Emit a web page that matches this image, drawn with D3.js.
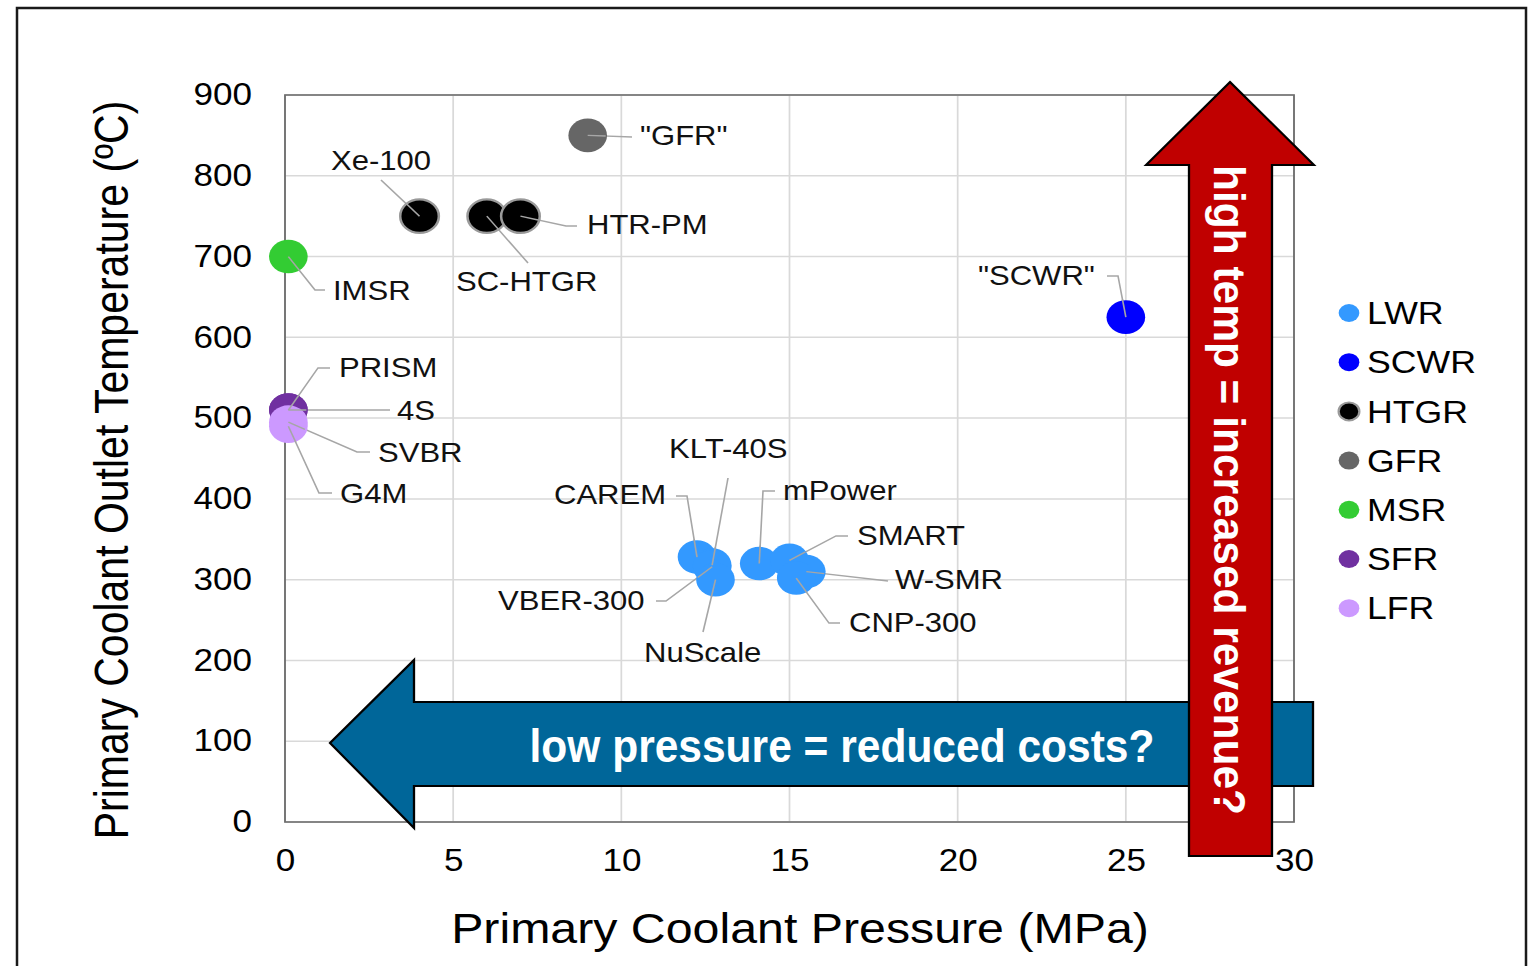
<!DOCTYPE html>
<html>
<head>
<meta charset="utf-8">
<script src="https://d3js.org/d3.v7.min.js"></script>
<style>
  body { margin: 0; background: #fff; }
  svg { display: block; font-family: "Liberation Sans", Arial, sans-serif; }
</style>
</head>
<body>
<div id="chart"></div>
<script>
// ---- data ----
const reactorNames = ['"GFR"', 'Xe-100', 'SC-HTGR', 'HTR-PM', 'IMSR', '"SCWR"', 'PRISM', '4S', 'SVBR', 'G4M',
  'CAREM', 'KLT-40S', 'VBER-300', 'NuScale', 'mPower', 'SMART', 'W-SMR', 'CNP-300'];
const pressures = [9, 4, 6, 7, 0.1, 25, 0.1, 0.1, 0.1, 0.1,
  12.25, 12.7, 12.7, 12.8, 14.1, 15, 15.5, 15.2];
const temperatures = [850, 750, 750, 750, 700, 625, 510, 510, 495, 490,
  328, 318, 316, 300, 320, 324, 310, 302];
const reactorTypes = ['GFR', 'HTGR', 'HTGR', 'HTGR', 'MSR', 'SCWR', 'SFR', 'SFR', 'LFR', 'LFR',
  'LWR', 'LWR', 'LWR', 'LWR', 'LWR', 'LWR', 'LWR', 'LWR'];

const legendTypes = ['LWR', 'SCWR', 'HTGR', 'GFR', 'MSR', 'SFR', 'LFR'];
const typeColors = ['#3399ff', '#0000ff', '#000000', '#666666', '#33cc33', '#7030a0', '#cc99ff'];

const xTicks = [0, 5, 10, 15, 20, 25, 30];
const yTicks = [0, 100, 200, 300, 400, 500, 600, 700, 800, 900];

// label placement (picture pixels): text start and leader bends
const labelLayout = {
  '"GFR"':   { text: [640, 136], bends: [[632, 137]] },
  'Xe-100':  { text: [331, 161], bends: [[381, 180]] },
  'HTR-PM':  { text: [587, 225], bends: [[566, 226], [577, 226]] },
  'SC-HTGR': { text: [456, 282], bends: [[528, 263]] },
  'IMSR':    { text: [333, 291], bends: [[315, 290], [325, 290]] },
  '"SCWR"':  { text: [978, 276], bends: [[1118, 276], [1107, 276]] },
  'PRISM':   { text: [339, 368], bends: [[318, 368], [330, 368]] },
  '4S':      { text: [397, 411], bends: [[390, 410]] },
  'SVBR':    { text: [378, 453], bends: [[357, 452], [370, 452]] },
  'G4M':     { text: [340, 494], bends: [[319, 493], [332, 493]] },
  'CAREM':   { text: [554, 495], bends: [[687, 496], [676, 496]] },
  'KLT-40S': { text: [669, 449], bends: [[728, 478]] },
  'VBER-300':{ text: [498, 601], bends: [[666, 601], [656, 601]] },
  'NuScale': { text: [644, 653], bends: [[703, 632]] },
  'mPower':  { text: [783, 491], bends: [[763, 491], [775, 491]] },
  'SMART':   { text: [857, 536], bends: [[836, 536], [848, 536]] },
  'W-SMR':   { text: [895, 580], bends: [[888, 581]] },
  'CNP-300': { text: [849, 623], bends: [[829, 623], [840, 623]] }
};

const W = 1529, H = 966;
const SX = 1.15;              // the slide is stretched sideways
const sx = px => px / SX;

const svg = d3.select('#chart').append('svg')
  .attr('width', W)
  .attr('height', H);

// outer slide frame
svg.append('rect')
  .attr('x', 17).attr('y', 8)
  .attr('width', 1509).attr('height', 1000)
  .attr('fill', 'none')
  .attr('stroke', '#1a1a1a')
  .attr('stroke-width', 2.5);

const g = svg.append('g').attr('transform', `scale(${SX},1)`);

const xScale = d3.scaleLinear().domain([0, 30]).range([sx(285), sx(1294)]);
const yScale = d3.scaleLinear().domain([0, 900]).range([822, 95]);
const color = d3.scaleOrdinal().domain(legendTypes).range(typeColors);

// grid
g.append('g').selectAll('line').data(xTicks)
  .join('line')
  .attr('x1', d => xScale(d)).attr('x2', d => xScale(d))
  .attr('y1', yScale(0)).attr('y2', yScale(900))
  .attr('stroke', '#d9d9d9').attr('stroke-width', 1.5);
g.append('g').selectAll('line').data(yTicks)
  .join('line')
  .attr('x1', xScale(0)).attr('x2', xScale(30))
  .attr('y1', d => yScale(d)).attr('y2', d => yScale(d))
  .attr('stroke', '#d9d9d9').attr('stroke-width', 1.5);

// plot border
g.append('rect')
  .attr('x', xScale(0)).attr('y', yScale(900))
  .attr('width', xScale(30) - xScale(0))
  .attr('height', yScale(0) - yScale(900))
  .attr('fill', 'none')
  .attr('stroke', '#6e6e6e')
  .attr('stroke-width', 1.6);

// axes
const xAxisGroup = g.append('g')
  .attr('transform', `translate(0,${yScale(0)})`)
  .call(d3.axisBottom(xScale).tickValues(xTicks).tickSize(0).tickPadding(27));
xAxisGroup.select('.domain').remove();
xAxisGroup.attr('font-size', 30.5).attr('font-family', null)
  .selectAll('text').attr('fill', '#000');

const yAxisGroup = g.append('g')
  .attr('transform', `translate(${xScale(0)},0)`)
  .call(d3.axisLeft(yScale).tickValues(yTicks).tickSize(0).tickPadding(sx(33)));
yAxisGroup.select('.domain').remove();
yAxisGroup.attr('font-size', 30.5).attr('font-family', null)
  .selectAll('text').attr('fill', '#000');

// axis titles
g.append('text')
  .attr('x', sx(800)).attr('y', 943)
  .attr('text-anchor', 'middle')
  .attr('font-size', 42)
  .text('Primary Coolant Pressure (MPa)');

g.append('text')
  .attr('transform', `translate(${sx(128)},470) rotate(-90)`)
  .attr('text-anchor', 'middle')
  .attr('font-size', 41)
  .text('Primary Coolant Outlet Temperature (ºC)');

// reactor records
const reactors = reactorNames.map((name, i) => ({
  name,
  pressure: pressures[i],
  temp: temperatures[i],
  type: reactorTypes[i]
}));

// leader lines
const line = d3.line();
g.append('g').selectAll('path').data(reactors)
  .join('path')
  .attr('d', d => {
    const pts = [[xScale(d.pressure), yScale(d.temp)]]
      .concat(labelLayout[d.name].bends.map(p => [sx(p[0]), p[1]]));
    return line(pts);
  })
  .attr('fill', 'none')
  .attr('stroke', '#a6a6a6')
  .attr('stroke-width', 1.4);

// markers
g.append('g').selectAll('circle').data(reactors)
  .join('circle')
  .attr('cx', d => xScale(d.pressure))
  .attr('cy', d => yScale(d.temp))
  .attr('r', 16.8)
  .attr('fill', d => color(d.type))
  .attr('stroke', d => d.type === 'HTGR' ? '#9a9a9a' : 'none')
  .attr('stroke-width', 2.2);

// re-draw leaders' inner ends on top of the markers
g.append('g').selectAll('path').data(reactors)
  .join('path')
  .attr('d', d => {
    const b = labelLayout[d.name].bends[0];
    const p0 = [xScale(d.pressure), yScale(d.temp)];
    const p1 = [sx(b[0]), b[1]];
    const len = Math.hypot((p1[0] - p0[0]) * SX, p1[1] - p0[1]);
    const t = Math.min(1, 18 / len);
    return line([p0, [p0[0] + (p1[0] - p0[0]) * t, p0[1] + (p1[1] - p0[1]) * t]]);
  })
  .attr('fill', 'none')
  .attr('stroke', '#a6a6a6')
  .attr('stroke-width', 1.4);

// labels
g.append('g').selectAll('text').data(reactors)
  .join('text')
  .attr('x', d => sx(labelLayout[d.name].text[0]))
  .attr('y', d => labelLayout[d.name].text[1])
  .attr('dy', '0.35em')
  .attr('font-size', 27)
  .attr('fill', '#111')
  .text(d => d.name);

// annotation arrows
const toInner = pts => pts.map(p => [sx(p[0]), p[1]]);
const blueArrow = [[330, 743], [414, 660], [414, 702], [1313, 702], [1313, 786], [414, 786], [414, 828]];
const redArrow = [[1230, 82], [1314, 165], [1272, 165], [1272, 856], [1189, 856], [1189, 165], [1146, 165]];

g.append('path')
  .attr('d', line(toInner(blueArrow)) + 'Z')
  .attr('fill', '#006699')
  .attr('stroke', '#000')
  .attr('stroke-width', 2)
  .attr('stroke-linejoin', 'miter');

g.append('text')
  .attr('x', sx(842)).attr('y', 762)
  .attr('text-anchor', 'middle')
  .attr('font-size', 46)
  .attr('font-weight', 'bold')
  .attr('fill', '#fff')
  .attr('textLength', sx(625))
  .attr('lengthAdjust', 'spacingAndGlyphs')
  .text('low pressure = reduced costs?');

g.append('path')
  .attr('d', line(toInner(redArrow)) + 'Z')
  .attr('fill', '#c00000')
  .attr('stroke', '#000')
  .attr('stroke-width', 2)
  .attr('stroke-linejoin', 'miter');

g.append('text')
  .attr('transform', `translate(${sx(1214)},490) rotate(90)`)
  .attr('text-anchor', 'middle')
  .attr('font-size', 39)
  .attr('font-weight', 'bold')
  .attr('fill', '#fff')
  .attr('textLength', 650)
  .attr('lengthAdjust', 'spacingAndGlyphs')
  .text('high temp = increased revenue?');

// legend
const legend = g.append('g')
  .selectAll('g').data(legendTypes)
  .join('g')
  .attr('transform', (d, i) => `translate(${sx(1349)},${313 + i * 49.2})`);
legend.append('circle')
  .attr('r', 9)
  .attr('fill', d => color(d))
  .attr('stroke', d => d === 'HTGR' ? '#9a9a9a' : 'none')
  .attr('stroke-width', 2);
legend.append('text')
  .attr('x', sx(1367) - sx(1349))
  .attr('dy', '0.36em')
  .attr('font-size', 31)
  .attr('fill', '#000')
  .text(d => d);
</script>
</body>
</html>
